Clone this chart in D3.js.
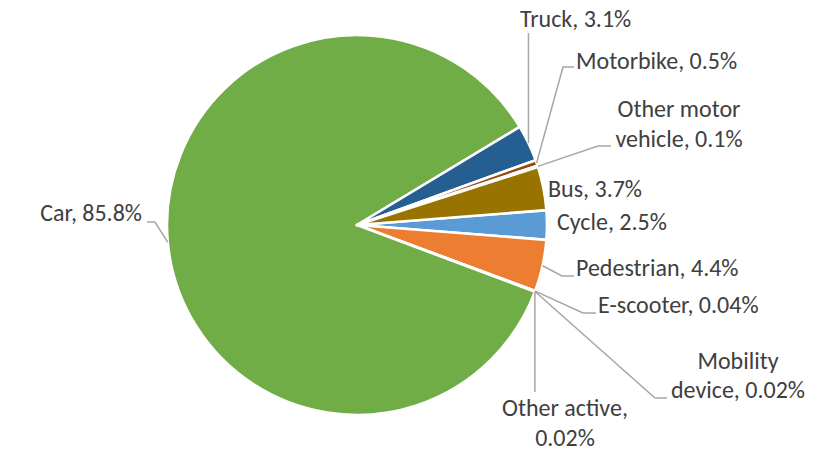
<!DOCTYPE html>
<html><head><meta charset="utf-8">
<script src="https://cdn.jsdelivr.net/npm/d3@7"></script>
<style>html,body{margin:0;padding:0;background:#fff;}</style>
</head><body>
<svg id="chart" width="825" height="471"></svg>
<script>
const categories = ["Cycle","Pedestrian","E-scooter","Mobility device","Other active","Car","Truck","Motorbike","Other motor vehicle","Bus"];
const values = [2.5, 4.4, 0.04, 0.02, 0.02, 85.8, 3.1, 0.5, 0.1, 3.7];
const valueLabels = ["2.5%","4.4%","0.04%","0.02%","0.02%","85.8%","3.1%","0.5%","0.1%","3.7%"];
const colors = ["#5B9BD5","#ED7D31","#A5A5A5","#FFC000","#4472C4","#70AD47","#255E91","#9E480E","#636363","#997300"];

// label layout (text positions and leader elbows)
const layout = {
  "Cycle": {anchor:"start", x:557, lines:[[ "Cycle, 2.5%",230]]},
  "Pedestrian": {anchor:"start", x:576, lines:[["Pedestrian, 4.4%",276]], elbow:[562,276], end:574},
  "E-scooter": {anchor:"start", x:598, lines:[["E-scooter, 0.04%",313]], elbow:[583,313], end:596},
  "Mobility device": {anchor:"middle", x:738, lines:[["Mobility",369],["device, 0.02%",398]], elbow:[655,398], end:667},
  "Other active": {anchor:"middle", x:565, lines:[["Other active,",416],["0.02%",446]], vert:392},
  "Car": {anchor:"end", x:142, lines:[["Car, 85.8%",221]], elbow:[155,222], end:147},
  "Truck": {anchor:"start", x:520, lines:[["Truck, 3.1%",27]], vert:33},
  "Motorbike": {anchor:"start", x:576, lines:[["Motorbike, 0.5%",69]], elbow:[563,67], end:574},
  "Other motor vehicle": {anchor:"middle", x:679, lines:[["Other motor",117],["vehicle, 0.1%",147]], elbow:[598,146], end:611},
  "Bus": {anchor:"start", x:548, lines:[["Bus, 3.7%",197]]}
};

const cx = 357, cy = 225, r = 190;
const svg = d3.select("#chart");
const g = svg.append("g").attr("transform", `translate(${cx},${cy})`);
const data = categories.map((c,i)=>({cat:c, value:values[i], label:valueLabels[i], color:colors[i]}));
const start = 85.5 * Math.PI/180;
const pie = d3.pie().value(d=>d.value).sort(null).startAngle(start).endAngle(start + 2*Math.PI);
const arcs = pie(data);
const arc = d3.arc().innerRadius(0).outerRadius(r);

g.selectAll("path.slice").data(arcs).join("path")
  .attr("class","slice")
  .attr("d", arc)
  .attr("fill", d=>d.data.color)
  .attr("stroke", "#fff")
  .attr("stroke-width", 2.6)
  .attr("stroke-linejoin","round");

// leader lines
const lg = svg.append("g");
arcs.forEach(a=>{
  const L = layout[a.data.cat];
  const mid = (a.startAngle + a.endAngle)/2;
  const px = cx + r*Math.sin(mid), py = cy - r*Math.cos(mid);
  let pts = null;
  if (L.elbow) pts = [[px,py],[L.elbow[0],L.elbow[1]],[L.end,L.elbow[1]]];
  else if (L.vert !== undefined) pts = [[px,py],[px,L.vert]];
  if (pts) lg.append("path").attr("d", d3.line()(pts))
      .attr("fill","none").attr("stroke","#A6A6A6").attr("stroke-width",1.5);
});

// labels
const tg = svg.append("g").attr("font-family","Carlito, Calibri, Lato, sans-serif").attr("font-size",24).attr("fill","#404040");
arcs.forEach(a=>{
  const L = layout[a.data.cat];
  L.lines.forEach(([t,y])=>{
    tg.append("text").attr("x",L.x).attr("y",y).attr("text-anchor",L.anchor).text(t);
  });
});
</script>
</body></html>
